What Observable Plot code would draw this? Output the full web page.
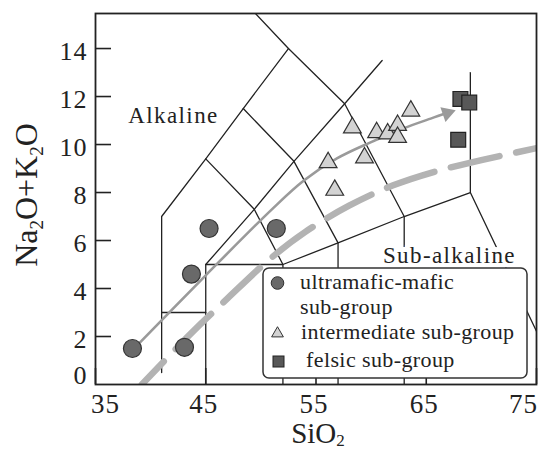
<!DOCTYPE html>
<html><head><meta charset="utf-8">
<script src="https://cdn.jsdelivr.net/npm/d3@7"></script>
<script src="https://cdn.jsdelivr.net/npm/@observablehq/plot@0.6"></script>
<style>
body{margin:0;background:#fff;}
#wrap{position:relative;width:539px;height:452px;}
</style></head><body><div id="wrap"></div>
<script>
const xTicks = [35, 45, 55, 65, 75];
const yTicks = [0, 2, 4, 6, 8, 10, 12, 14];
const ultramaficMafic = [[38.35,1.5],[43.07,1.55],[43.7,4.6],[45.3,6.5],[51.4,6.5]];
const intermediate = [[58.3,10.7],[60.5,10.5],[61.5,10.45],[62.4,10.8],[62.4,10.3],[63.6,11.4],[56.1,9.25],[59.4,9.45],[56.7,8.1]];
const felsic = [[68.1,11.9],[68.9,11.75],[67.9,10.2]];
const trendLine = [[38.4,1.45],[45,4.55],[51,7.3],[53.9,8.5],[56.9,9.42],[59.9,10.08],[62.9,10.67],[65.4,11.08],[66.9,11.31]];
const alkalineDivide = [[39.2,0],[43.6,2.1],[47,3.6],[51,5.3],[54,6.35],[58,7.45],[62,8.3],[66,8.9],[70,9.35],[75,9.85]];
const tasBoundaries = [
  [[41,0.5],[41,7],[45,9.4],[48.4,11.5],[52.5,14]],
  [[41,3],[45,3]],
  [[45,0],[45,5],[52,5],[57,5.9],[63,7],[69,8],[77.3,0]],
  [[45,5],[49.4,7.3],[53,9.3],[57.6,11.7],[61,13.5]],
  [[45,9.4],[49.4,7.3],[52,5],[52,0]],
  [[48.4,11.5],[53,9.3],[57,5.9],[57,0]],
  [[48.4,16],[52.5,14],[57.6,11.7],[63,7],[63,0]],
  [[69,8],[69,13]]
];
const regionLabels = [{text:"Alkaline", x:42.07, y:11.2}, {text:"Sub-alkaline", x:67.1, y:5.39}];
const legendItems = ["ultramafic-mafic|sub-group", "intermediate sub-group", "felsic sub-group"];

const W = 539, H = 452, mL = 95, mR = 3, mT = 13, mB = 68;
const xDom = [35, 75], yDom = [0, 15.46];
const pxX = (W - mL - mR) / (xDom[1] - xDom[0]);
const pxY = (H - mT - mB) / (yDom[1] - yDom[0]);
const tickLen = 16;
const serif = '"Liberation Serif","Times New Roman",serif';

const bRows = tasBoundaries.flatMap((pts, i) => pts.map(([x, y]) => ({x, y, id: i})));
const px = d => d[0], py = d => d[1];

const chart = Plot.plot({
  width: W, height: H, marginLeft: mL, marginRight: mR, marginTop: mT, marginBottom: mB,
  x: {domain: xDom}, y: {domain: yDom},
  style: {fontFamily: serif, background: "white", color: "#222"},
  marks: [
    Plot.line(bRows, {x: "x", y: "y", z: "id", stroke: "#222", strokeWidth: 1.3, clip: true}),
    Plot.line(alkalineDivide, {x: px, y: py, stroke: "#b3b3b3", strokeWidth: 6.5, strokeDasharray: "50,17", strokeDashoffset: 18, curve: "catmull-rom", clip: true}),
    Plot.line(trendLine, {x: px, y: py, stroke: "#9a9a9a", strokeWidth: 2.6, curve: "catmull-rom"}),
    Plot.dot(trendLine.slice(-1), {x: px, y: py, symbol: "triangle", r: 5.8, rotate: 71, fill: "#9a9a9a", stroke: "none"}),
    Plot.ruleY(yTicks.filter(d => d > 0), {y: d => d, x1: xDom[0], x2: xDom[0] + tickLen / pxX, stroke: "#222", strokeWidth: 1.6}),
    Plot.ruleX(xTicks, {x: d => d, y1: 0, y2: tickLen / pxY, stroke: "#222", strokeWidth: 1.6}),
    Plot.dot(ultramaficMafic, {x: px, y: py, r: 9, fill: "#696969", stroke: "#333", strokeWidth: 1.2}),
    Plot.dot(intermediate, {x: px, y: py, symbol: "triangle", r: 6.6, fill: "#d3d3d3", stroke: "#333", strokeWidth: 1.2}),
    Plot.dot(felsic, {x: px, y: py, symbol: "square", r: 8.4, fill: "#585858", stroke: "#222", strokeWidth: 1.2}),
    Plot.text(regionLabels, {x: "x", y: "y", text: "text", fontSize: 23, fill: "#222", stroke: "white", strokeWidth: 10}),
    Plot.frame({stroke: "#222", strokeWidth: 1.8}),
    Plot.axisY({ticks: yTicks.filter(d => d > 0), tickSize: 0, tickPadding: 8, fontSize: 26, dy: 3, label: null, fill: "#222"}),
    Plot.axisY({ticks: [0], tickSize: 0, tickPadding: 8, fontSize: 26, dy: -9, label: null, fill: "#222"}),
    Plot.axisX({ticks: [35], tickSize: 0, tickPadding: 9, fontSize: 27, dx: 10, label: null, fill: "#222"}),
    Plot.axisX({ticks: [45, 55, 65], tickSize: 0, tickPadding: 9, fontSize: 27, dx: -2, label: null, fill: "#222"}),
    Plot.axisX({ticks: [75], tickSize: 0, tickPadding: 9, fontSize: 27, dx: -13, label: null, fill: "#222"})
  ]
});
document.getElementById("wrap").appendChild(chart);

const svg = d3.select(chart);
svg.selectAll("text").filter(function(){ return this.textContent === "Alkaline" || this.textContent === "Sub-alkaline"; })
  .attr("letter-spacing", "1.4px");
svg.selectAll("text").filter(function(){ return /^\d+$/.test(this.textContent); }).attr("letter-spacing", "1px");

// axis titles with subscripts
const xt = svg.append("text").attr("x", 318).attr("y", 443).attr("text-anchor", "middle")
  .attr("font-family", serif).attr("font-size", 29).attr("fill", "#222");
xt.append("tspan").text("SiO");
xt.append("tspan").attr("font-size", 17).attr("dy", 3).text("2");

const yt = svg.append("text").attr("transform", "translate(37,195) rotate(-90)").attr("text-anchor", "middle")
  .attr("font-family", serif).attr("font-size", 32).attr("fill", "#222");
yt.append("tspan").text("Na");
yt.append("tspan").attr("font-size", 19).attr("dy", 6).text("2");
yt.append("tspan").attr("dy", -6).text("O+K");
yt.append("tspan").attr("font-size", 19).attr("dy", 6).text("2");
yt.append("tspan").attr("dy", -6).text("O");

// legend
const lg = svg.append("g").attr("font-family", serif).attr("font-size", 22).attr("fill", "#222").attr("text-anchor", "start");
lg.append("rect").attr("x", 263).attr("y", 268).attr("width", 264).attr("height", 110).attr("rx", 6)
  .attr("fill", "white").attr("stroke", "#333").attr("stroke-width", 1.5);
lg.append("circle").attr("cx", 277.5).attr("cy", 283).attr("r", 6.3).attr("fill", "#696969").attr("stroke", "#333");
lg.append("path").attr("d", d3.symbol(d3.symbolTriangle, 60)()).attr("transform", "translate(277.5,333.5)")
  .attr("fill", "#d3d3d3").attr("stroke", "#333");
lg.append("rect").attr("x", 273).attr("y", 356).attr("width", 11).attr("height", 11).attr("fill", "#585858").attr("stroke", "#222");
const [l1a, l1b] = legendItems[0].split("|");
lg.append("text").attr("x", 300).attr("y", 289).attr("letter-spacing", "0.4px").text(l1a);
lg.append("text").attr("x", 300).attr("y", 314).attr("letter-spacing", "0.4px").text(l1b);
lg.append("text").attr("x", 301).attr("y", 339).attr("letter-spacing", "0.4px").text(legendItems[1]);
lg.append("text").attr("x", 306).attr("y", 367).attr("letter-spacing", "0.4px").text(legendItems[2]);
</script></body></html>
